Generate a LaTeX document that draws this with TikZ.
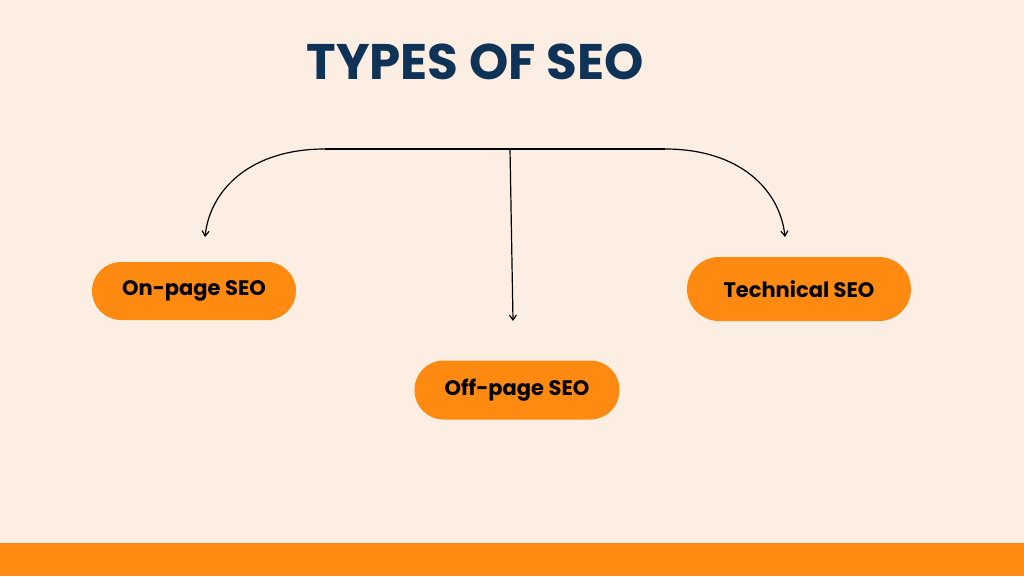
\documentclass[tikz,border=0pt]{standalone}
\usepackage{fontspec}
\setmainfont{Poppins}
\usetikzlibrary{arrows.meta}
\definecolor{bg}{HTML}{FDEEE3}
\definecolor{org}{HTML}{FF8A12}
\definecolor{navy}{HTML}{0E3356}
\tikzset{pill/.style={fill=org,rounded corners=29pt,minimum height=58pt,font=\fontsize{21}{24}\selectfont\bfseries,text=black,inner sep=0pt},
conn/.style={line width=1.2pt,-{Straight Barb[length=5pt,width=7pt]}}}
\begin{document}
\begin{tikzpicture}[x=1pt,y=-1pt]
\fill[bg] (0,0) rectangle (1024,576);
\fill[org] (0,543) rectangle (1024,576);
\node[font=\fontsize{50}{56}\selectfont\bfseries,text=navy] (title) at (475,62) {TYPES OF SEO};
\node[pill,minimum width=204pt] (on) at (194,291) {On-page SEO};
\node[pill,minimum width=205pt,minimum height=59pt] (off) at (517,390) {Off-page SEO};
\node[pill,minimum width=224pt,minimum height=64pt,rounded corners=32pt] (tech) at (799,289) {Technical SEO};
\coordinate (hl) at (325,149);
\coordinate (hr) at (665,149);
\coordinate (hm) at (510,149);
\coordinate (el) at (205,237);
\coordinate (er) at (785,237);
\coordinate (em) at (513,321);
\draw[line width=1.2pt] (hl) -- (hr);
\draw[conn] (hl) .. controls (250,149) and (210,190) .. (el);
\draw[conn] (hr) .. controls (740,149) and (780,190) .. (er);
\draw[conn] (hm) -- (em);
\end{tikzpicture}
\end{document}
